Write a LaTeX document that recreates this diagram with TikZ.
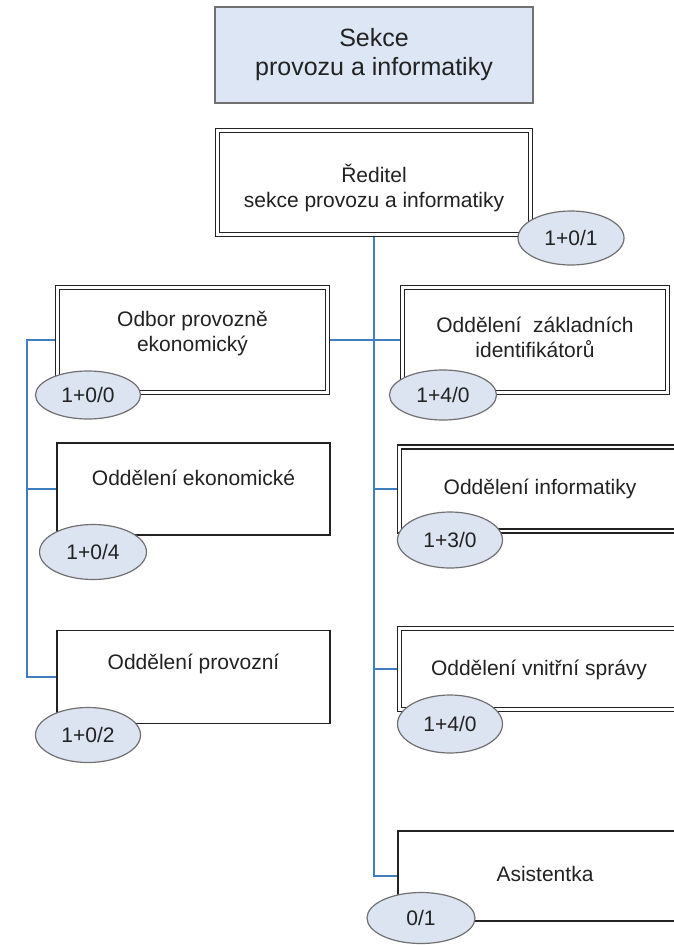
\documentclass[tikz,border=0pt]{standalone}
\usepackage{fontspec}
\setmainfont{Liberation Sans}
\usetikzlibrary{shapes.geometric,calc,backgrounds}
\definecolor{linkblue}{HTML}{3F7FBF}
\definecolor{ovalfill}{HTML}{DCE4F1}
\definecolor{topfill}{HTML}{DDE6F4}
\definecolor{ink}{HTML}{222222}
\definecolor{ovalline}{HTML}{707070}
\begin{document}
\begin{tikzpicture}[x=1pt,y=-1pt,
 dbox/.style={draw=ink, line width=1.3pt, double=white, double distance=2.8pt, fill=white, rectangle, inner sep=0pt},
 sbox/.style={draw=ink, line width=1.7pt, fill=white, rectangle, inner sep=0pt},
 topbox/.style={draw=ovalline, line width=1.5pt, fill=topfill, rectangle, inner sep=0pt},
 txt/.style={font=\fontsize{21}{25}\selectfont, text=ink, align=center, inner sep=0pt},
 bigtxt/.style={font=\fontsize{25}{29}\selectfont, text=ink, align=center, inner sep=0pt},
 oval/.style={ellipse, draw=ovalline, line width=1.2pt, fill=ovalfill, inner sep=0pt, font=\fontsize{21}{25}\selectfont, text=ink},
 link/.style={draw=linkblue, line width=1.6pt},
]
\useasboundingbox (0,0) rectangle (674,945);
\clip (0,0) rectangle (674,945);

% boxes
\node[topbox, minimum width=318, minimum height=96] (top) at (374,55) {};
\node[dbox, minimum width=313, minimum height=104] (dir) at (374,182.5) {};
\node[dbox, minimum width=270, minimum height=105] (odbor) at (192.5,340) {};
\node[dbox, minimum width=265, minimum height=105] (zakl) at (535,340) {};
\node[sbox, minimum width=273, minimum height=92] (ekon) at (193.5,489) {};
\node[dbox, minimum width=281, minimum height=84] (info) at (540,489) {};
\node[sbox, minimum width=273, minimum height=93] (prov) at (193.5,677) {};
\node[dbox, minimum width=279, minimum height=81] (vnit) at (539,669) {};
\node[sbox, minimum width=294, minimum height=90] (asis) at (545,876) {};

% texts
\node[bigtxt] (top-t) at (top.center) {Sekce\\provozu a informatiky};
\node[txt] (dir-t) at ($(dir.center)+(0,5)$) {Ředitel\\sekce provozu a informatiky};
\node[txt] (odbor-t) at ($(odbor.center)+(0,-6)$) {Odbor provozně\\ekonomický};
\node[txt] (zakl-t) at ($(zakl.center)+(0,-3)$) {Oddělení~~základních\\identifikátorů};
\node[txt] (ekon-t) at ($(ekon.center)+(0,-11)$) {Oddělení ekonomické};
\node[txt] (info-t) at (info.center) {Oddělení informatiky};
\node[txt] (prov-t) at ($(prov.center)+(0,-13)$) {Oddělení provozní};
\node[txt] (vnit-t) at ($(vnit.center)+(0,1)$) {Oddělení vnitřní správy};
\node[txt] (asis-t) at ($(asis.center)+(0,-2)$) {Asistentka};

% ovals
\node[oval, minimum width=106, minimum height=54] (dir-o) at (571,238) {1+0/1};
\node[oval, minimum width=105, minimum height=48] (odbor-o) at (88,395) {1+0/0};
\node[oval, minimum width=107, minimum height=50] (zakl-o) at (443,395) {1+4/0};
\node[oval, minimum width=107, minimum height=55] (ekon-o) at (93,552) {1+0/4};
\node[oval, minimum width=105, minimum height=56] (info-o) at (450,540) {1+3/0};
\node[oval, minimum width=105, minimum height=55] (prov-o) at (88,735) {1+0/2};
\node[oval, minimum width=105, minimum height=58] (vnit-o) at (450,724) {1+4/0};
\node[oval, minimum width=108, minimum height=51] (asis-o) at (421,918) {0/1};

% connectors
\coordinate (L) at (27,0);
\begin{scope}[on background layer]
\fill[white] (0,0) rectangle (674,945);
\draw[link] (dir.south) -- (dir.south |- asis.west) -- (asis.west);
\draw[link] (odbor.east) -- (zakl.west);
\draw[link] (dir.south |- info.west) -- (info.west);
\draw[link] (dir.south |- vnit.west) -- (vnit.west);
\draw[link] (odbor.west) -- (L |- odbor.west) -- (L |- prov.west) -- (prov.west);
\draw[link] (L |- ekon.west) -- (ekon.west);
\end{scope}
\end{tikzpicture}
\end{document}
